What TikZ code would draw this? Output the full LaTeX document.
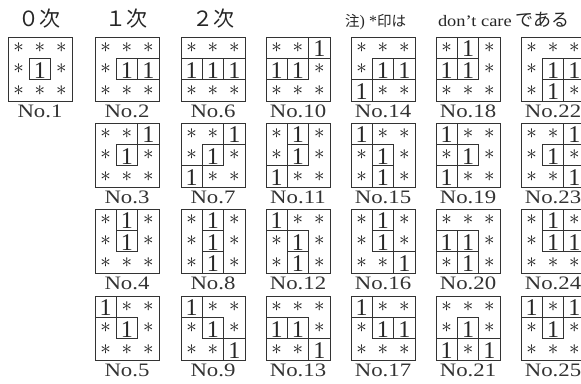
\documentclass[tikz,border=0pt]{standalone}
\usepackage{fontspec}
\setmainfont{Liberation Serif}
\newfontfamily\cjk{Noto Sans CJK JP}
\usepackage{graphicx}
\tikzset{
  frame/.style={draw=black!80,line width=0.9pt},
  onebox/.style={draw=black!80,line width=0.8pt},
  astk/.style={inner sep=0pt,text=black!90},
  onedig/.style={inner sep=0pt,anchor=base,text=black!85,font=\fontsize{24}{24}\selectfont},
  lbl/.style={inner sep=0pt,anchor=base,text=black!80,font=\fontsize{19}{19}\selectfont},
  head/.style={inner sep=0pt,text=black!85,font=\cjk\fontsize{21}{21}\selectfont},
  note/.style={inner sep=0pt,anchor=base west,text=black!85,font=\fontsize{16}{16}\selectfont},
}
\newcommand\cw{21.33}
\newcommand\kpat[4]{%
  \begin{scope}[shift={(#1,#2)}]
    \foreach \ri/\ci in {#4}{%
      \expandafter\gdef\csname kp#3@\ri@\ci\endcsname{}%
      \draw[onebox] ({\ci*\cw},{\ri*\cw}) rectangle ({(\ci+1)*\cw},{(\ri+1)*\cw});
      \node[onedig] at ({(\ci+0.5)*\cw},{(\ri+1)*\cw-1.5}) {1};}
    \foreach \ri in {0,1,2}{\foreach \ci in {0,1,2}{%
      \ifcsname kp#3@\ri@\ci\endcsname\else
      \node[astk] at ({(\ci+0.5)*\cw},{(\ri+0.5)*\cw}) {\scalebox{2.1}{$\ast$}};\fi}}
    \draw[frame] (0,0) rectangle ({3*\cw},{3*\cw});
    \node[lbl] (no#3) at ({1.5*\cw},{3*\cw+16.5}) {\scalebox{1.2}[1]{No.#3}};
  \end{scope}}
\begin{document}
\begin{tikzpicture}[x=1pt,y=-1pt]
\useasboundingbox (0,0) rectangle (581,383);
\clip (0,0) rectangle (581,383);
\node[head] (h0) at (40,19) {０次};
\node[head] (h1) at (126,19) {１次};
\node[head] (h2) at (213,19) {２次};
\node[note] (nt) at (345,26) {{\cjk\fontsize{14.5}{15}\selectfont 注}) *{\cjk\fontsize{14.5}{15}\selectfont 印は}\hspace{32pt}\scalebox{1.15}[1]{don't care}\hspace{4pt}{\cjk\fontsize{18}{18}\selectfont である}};
% column 0
\kpat{8}{37}{1}{1/1}
% column 1
\kpat{95}{37}{2}{1/1,1/2}
\kpat{95}{123}{3}{0/2,1/1}
\kpat{95}{209}{4}{0/1,1/1}
\kpat{95}{296}{5}{0/0,1/1}
% column 2
\kpat{181}{37}{6}{1/0,1/1,1/2}
\kpat{181}{123}{7}{0/2,1/1,2/0}
\kpat{181}{209}{8}{0/1,1/1,2/1}
\kpat{181}{296}{9}{0/0,1/1,2/2}
% column 3
\kpat{266}{37}{10}{0/2,1/0,1/1}
\kpat{266}{123}{11}{0/1,1/1,2/0}
\kpat{266}{209}{12}{0/0,1/1,2/1}
\kpat{266}{296}{13}{1/0,1/1,2/2}
% column 4
\kpat{351}{37}{14}{1/1,1/2,2/0}
\kpat{351}{123}{15}{0/0,1/1,2/1}
\kpat{351}{209}{16}{0/1,1/1,2/2}
\kpat{351}{296}{17}{0/0,1/1,1/2}
% column 5
\kpat{436}{37}{18}{0/1,1/0,1/1}
\kpat{436}{123}{19}{0/0,1/1,2/0}
\kpat{436}{209}{20}{1/0,1/1,2/1}
\kpat{436}{296}{21}{1/1,2/0,2/2}
% column 6
\kpat{521}{37}{22}{1/1,1/2,2/1}
\kpat{521}{123}{23}{0/2,1/1,2/2}
\kpat{521}{209}{24}{0/1,1/1,1/2}
\kpat{521}{296}{25}{0/0,0/2,1/1}
\end{tikzpicture}
\end{document}
